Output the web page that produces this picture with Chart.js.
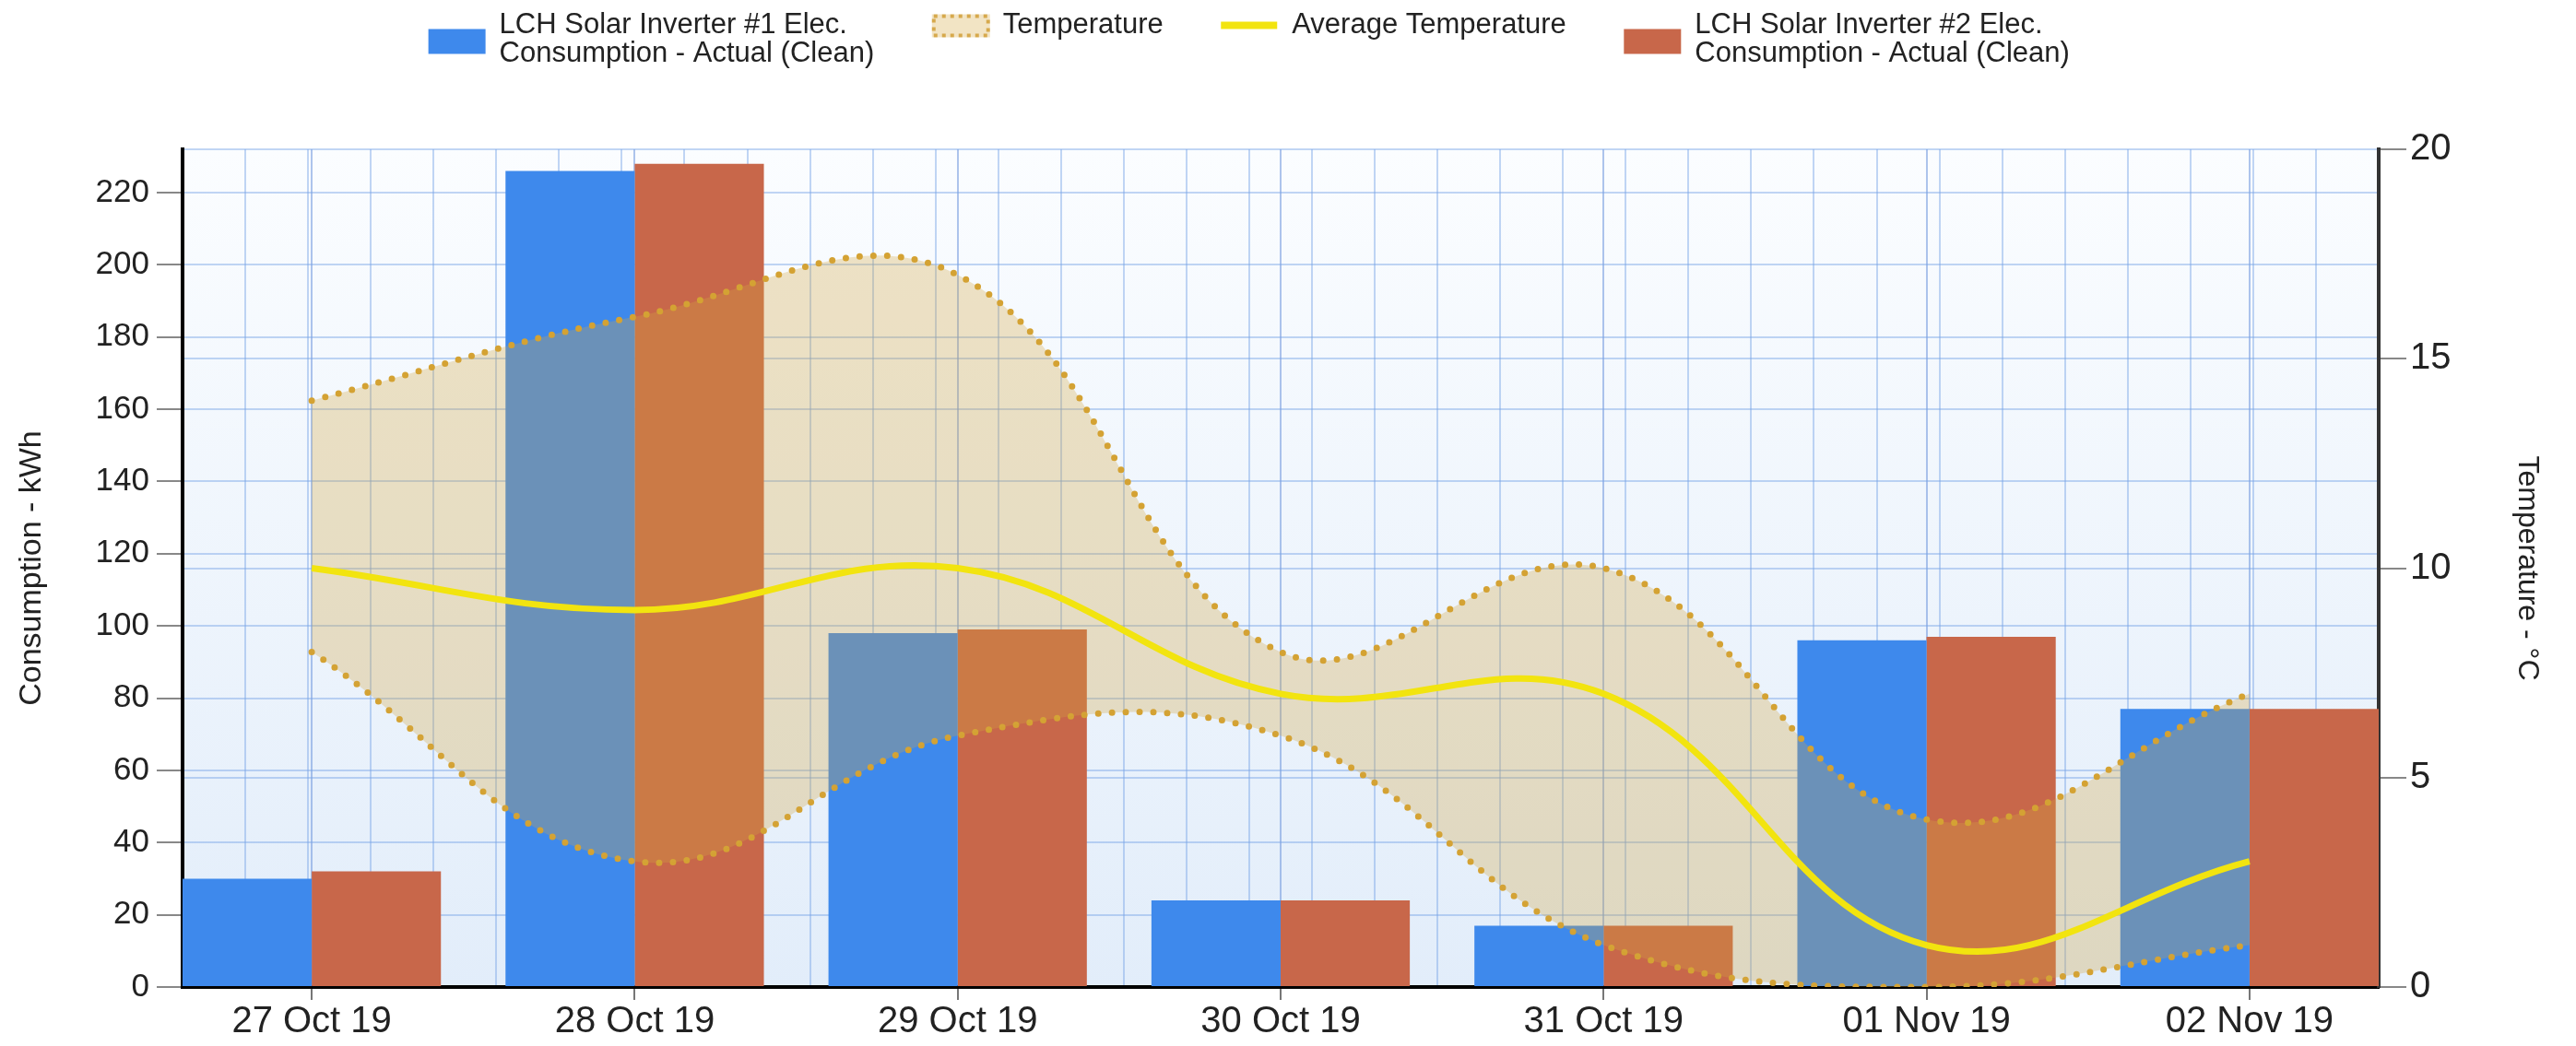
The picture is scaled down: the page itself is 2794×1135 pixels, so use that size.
<!DOCTYPE html>
<html>
<head>
<meta charset="utf-8">
<script src="https://cdn.jsdelivr.net/npm/chart.js@4.4.1/dist/chart.umd.min.js"></script>
<style>
  html, body { margin: 0; padding: 0; background: #fff; }
</style>
</head>
<body>
<canvas id="chart" width="2794" height="1135"></canvas>
<script>
// data
var days = ['27 Oct 19', '28 Oct 19', '29 Oct 19', '30 Oct 19', '31 Oct 19', '01 Nov 19', '02 Nov 19'];
var inverter1 = [30, 226, 98, 24, 17, 96, 77];
var inverter2 = [32, 228, 99, 24, 17, 97, 77];
var tempHigh = [14, 16, 17, 8, 10, 4, 7];
var tempLow = [8, 3, 6, 6, 1, 0, 1];
var tempAvg = [10, 9, 10, 7, 7, 1, 3];

var inverter1Label = ['LCH Solar Inverter #1 Elec.', 'Consumption - Actual (Clean)'];
var inverter2Label = ['LCH Solar Inverter #2 Elec.', 'Consumption - Actual (Clean)'];

Chart.defaults.font.family = '"Liberation Sans", Arial, Helvetica, sans-serif';
Chart.defaults.color = '#222';

var blue = '#3e89ec';
var red = '#c8674a';
var gold = '#d4a233';
var yellow = '#f2e40f';
var gridBlue = 'rgba(120,165,230,0.45)';

// little canvases used as legend markers
function marker(draw) {
  var c = document.createElement('canvas');
  c.width = 124;
  c.height = 100;
  draw(c.getContext('2d'));
  return c;
}
var legendMarks = [
  marker(function (g) { g.fillStyle = blue; g.fillRect(1, 54, 62, 27); }),
  marker(function (g) {
    g.fillStyle = '#f2e4c4';
    g.fillRect(1, 38, 63, 25);
    g.strokeStyle = '#d6a94c';
    g.lineWidth = 4;
    g.setLineDash([4, 5]);
    g.strokeRect(3, 40, 59, 21);
  }),
  marker(function (g) {
    g.strokeStyle = yellow;
    g.lineWidth = 8;
    g.beginPath(); g.moveTo(1, 50); g.lineTo(62, 50); g.stroke();
  }),
  marker(function (g) { g.fillStyle = red; g.fillRect(1, 54, 62, 27); })
];
var legendOrder = [0, 1, 3, 4];

// two-line legend text, measured by its longest line
function legendText(label) {
  if (!Array.isArray(label)) return label;
  var t = label.slice();
  var longest = t.reduce(function (a, b) { return a.length > b.length ? a : b; });
  t.toString = function () { return longest; };
  return t;
}

var plotBackground = {
  id: 'plotBackground',
  afterLayout: function (chart) {
    // let the second legend line show below the legend box
    chart.legend.bottom = chart.legend.top + chart.legend.height + 80;
  },
  beforeDraw: function (chart) {
    var a = chart.chartArea, ctx = chart.ctx;
    var g = ctx.createLinearGradient(0, a.top, 0, a.bottom);
    g.addColorStop(0, '#fbfdff');
    g.addColorStop(1, '#e2edfa');
    ctx.save();
    ctx.fillStyle = g;
    ctx.fillRect(a.left, a.top, a.right - a.left, a.bottom - a.top);
    ctx.restore();
  }
};

var ctx = document.getElementById('chart').getContext('2d');

var chart = new Chart(ctx, {
  type: 'bar',
  plugins: [plotBackground],
  data: {
    labels: days,
    datasets: [
      {
        label: inverter1Label,
        data: inverter1,
        backgroundColor: blue,
        yAxisID: 'y',
        order: 2
      },
      {
        type: 'line',
        label: 'Temperature',
        data: tempHigh,
        yAxisID: 'y1',
        borderColor: gold,
        backgroundColor: 'rgba(212,166,62,0.3)',
        borderWidth: 7,
        borderDash: [0, 15],
        borderCapStyle: 'round',
        tension: 0.4,
        pointRadius: 0,
        fill: '+1',
        order: 1
      },
      {
        type: 'line',
        label: 'Temperature (low)',
        data: tempLow,
        yAxisID: 'y1',
        borderColor: gold,
        borderWidth: 7,
        borderDash: [0, 15],
        borderCapStyle: 'round',
        tension: 0.4,
        pointRadius: 0,
        fill: false,
        order: 1
      },
      {
        type: 'line',
        label: 'Average Temperature',
        data: tempAvg,
        yAxisID: 'y1',
        borderColor: yellow,
        borderWidth: 7,
        tension: 0.4,
        pointRadius: 0,
        fill: false,
        order: 0
      },
      {
        label: inverter2Label,
        data: inverter2,
        backgroundColor: red,
        yAxisID: 'y',
        order: 2
      }
    ]
  },
  options: {
    responsive: false,
    animation: false,
    layout: { padding: { top: -111, left: 0, right: 24, bottom: 0 } },
    datasets: { bar: { categoryPercentage: 0.8, barPercentage: 1 } },
    plugins: {
      tooltip: { enabled: false },
      legend: {
        position: 'top',
        labels: {
          usePointStyle: true,
          pointStyleWidth: 1,
          boxHeight: 31,
          padding: 123,
          color: '#222',
          font: { size: 31, lineHeight: 1.0 },
          generateLabels: function (chart) {
            return legendOrder.map(function (di, k) {
              var ds = chart.data.datasets[di];
              return {
                text: legendText(ds.label),
                fillStyle: 'transparent',
                strokeStyle: 'transparent',
                lineWidth: 0,
                pointStyle: legendMarks[k],
                hidden: !chart.isDatasetVisible(di),
                datasetIndex: di,
                fontColor: '#222'
              };
            });
          }
        }
      }
    },
    scales: {
      x: {
        type: 'category',
        position: 'bottom',
        afterBuildTicks: function (scale) {
          // bars touch the side axes: range runs 0.4 of a day past each end
          scale._startValue = -0.4;
          scale._valueRange = days.length - 1 + 0.8;
        },
        afterFit: function (scale) { scale.height = 64; },
        grid: {
          offset: false,
          color: 'rgba(110,150,220,0.55)',
          lineWidth: 2,
          tickColor: '#777',
          tickLength: 14,
          tickWidth: 2
        },
        border: { color: '#000', width: 4 },
        ticks: { font: { size: 40 }, padding: 0, maxRotation: 0, autoSkip: false, color: '#222' }
      },
      x2: {
        type: 'linear',
        position: 'top',
        min: -0.4,
        max: days.length - 1 + 0.4,
        afterFit: function (scale) {
          scale.height = 162 + 111 - scale.chart.legend.height;
        },
        grid: { color: gridBlue, lineWidth: 2, drawTicks: false, tickLength: 0 },
        border: { display: false },
        ticks: { stepSize: 0.2, display: false }
      },
      y: {
        position: 'left',
        min: 0,
        max: 232,
        afterFit: function (scale) { scale.width = 198; },
        ticks: { stepSize: 20, includeBounds: false, font: { size: 35 }, padding: 8, color: '#222' },
        grid: { color: gridBlue, lineWidth: 2, tickColor: '#888', tickLength: 28, tickWidth: 2 },
        border: { color: '#000', width: 4 },
        title: { display: true, text: 'Consumption - kWh', font: { size: 34 }, color: '#222', padding: { top: 14, bottom: 0 } }
      },
      y1: {
        position: 'right',
        min: 0,
        max: 20,
        afterFit: function (scale) { scale.width = 190; },
        ticks: { stepSize: 5, font: { size: 40 }, padding: 4, color: '#222' },
        grid: { color: gridBlue, lineWidth: 2, tickColor: '#888', tickLength: 30, tickWidth: 2 },
        border: { color: '#333', width: 4 },
        title: { display: true, text: 'Temperature - °C', font: { size: 32 }, color: '#222', padding: { top: 10, bottom: 0 } }
      }
    }
  }
});
</script>
</body>
</html>
